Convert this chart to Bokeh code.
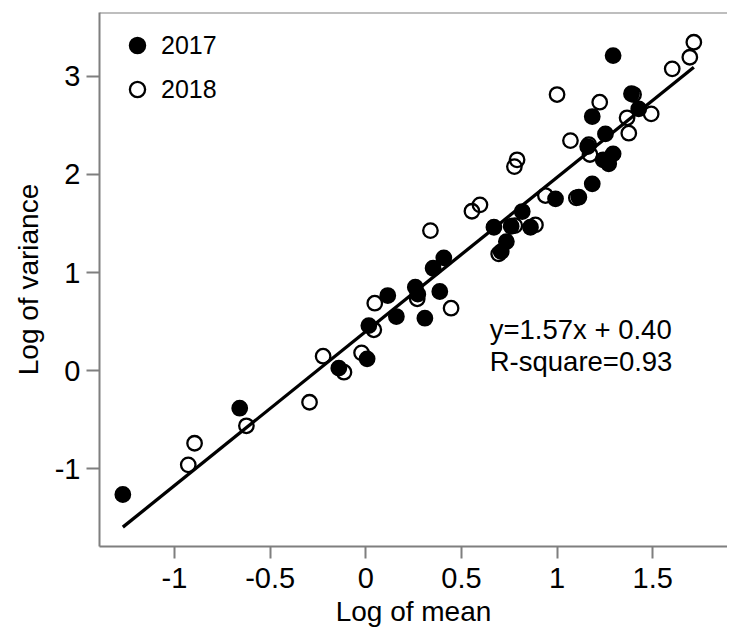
from bokeh.plotting import figure
from bokeh.models import Span, Label, Legend, LegendItem, FixedTicker, Range1d
from bokeh.embed import file_html
from bokeh.resources import INLINE

# ---- data ----
x2017 = [-1.270, -0.659, -0.141, 0.007, 0.016, 0.115, 0.160, 0.259, 0.272, 0.309,
         0.387, 0.352, 0.408, 0.670, 0.708, 0.735, 0.760, 0.818, 0.861, 0.992,
         1.114, 1.184, 1.160, 1.241, 1.270, 1.293, 1.253, 1.184, 1.293, 1.389, 1.427]
y2017 = [-1.261, -0.382, 0.026, 0.121, 0.460, 0.766, 0.552, 0.851, 0.780, 0.535,
         0.807, 1.044, 1.150, 1.462, 1.214, 1.316, 1.472, 1.622, 1.462, 1.751,
         1.768, 1.904, 2.284, 2.149, 2.108, 2.210, 2.413, 2.590, 3.211, 2.822, 2.668]

x2018 = [-0.895, -0.928, -0.624, -0.294, -0.223, -0.114, -0.022, 0.042, 0.047, 0.269,
         0.338, 0.446, 0.555, 0.597, 0.695, 0.779, 0.887, 0.777, 0.791, 0.939,
         1.000, 1.101, 1.070, 1.166, 1.172, 1.223, 1.366, 1.375, 1.400, 1.492,
         1.602, 1.694, 1.715]
y2018 = [-0.739, -0.959, -0.561, -0.321, 0.148, -0.015, 0.182, 0.417, 0.688, 0.733,
         1.428, 0.637, 1.625, 1.690, 1.191, 1.479, 1.486, 2.080, 2.149, 1.785,
         2.814, 1.761, 2.345, 2.304, 2.203, 2.736, 2.577, 2.420, 2.814, 2.617,
         3.076, 3.194, 3.347]

series_names = ["2017", "2018"]
slope = 1.57
intercept = 0.40
r_square = 0.93

x_ticks = [-1, -0.5, 0, 0.5, 1, 1.5]
x_tick_labels = ["-1", "-0.5", "0", "0.5", "1", "1.5"]
y_ticks = [-1, 0, 1, 2, 3]
y_tick_labels = ["-1", "0", "1", "2", "3"]
x_title = "Log of mean"
y_title = "Log of variance"

FONT = "Liberation Sans"
AXIS_GREY = "#7f7f7f"

p = figure(width=727, height=630,
           x_range=Range1d(-1.392, 1.891), y_range=Range1d(-1.791, 3.65),
           output_backend="svg", toolbar_location=None,
           min_border_left=99, min_border_top=12, min_border_right=0, min_border_bottom=84)
p.outline_line_color = None
p.grid.visible = False
p.background_fill_color = "white"

# regression line over the data extent
all_x = x2017 + x2018
lx = [min(all_x), max(all_x)]
ly = [slope * v + intercept for v in lx]
p.line(lx, ly, line_color="black", line_width=3.3)

r18 = p.scatter(x2018, y2018, marker="circle", size=14.5, fill_color=None,
                line_color="black", line_width=2.3)
r17 = p.scatter(x2017, y2017, marker="circle", size=14.5, fill_color="black",
                line_color="black", line_width=2.3)

# top border of the frame
p.add_layout(Span(location=p.y_range.end, dimension="width",
                  line_color=AXIS_GREY, line_width=2))

for ax, ticks, labels, title in ((p.xaxis[0], x_ticks, x_tick_labels, x_title),
                                 (p.yaxis[0], y_ticks, y_tick_labels, y_title)):
    ax.ticker = FixedTicker(ticks=ticks)
    ax.major_label_overrides = {t: l for t, l in zip(ticks, labels)}
    ax.axis_label = title
    ax.axis_line_color = AXIS_GREY
    ax.axis_line_width = 2
    ax.major_tick_line_color = AXIS_GREY
    ax.major_tick_line_width = 2
    ax.major_tick_in = 0
    ax.minor_tick_line_color = None
    ax.major_label_text_font = FONT
    ax.major_label_text_font_size = "29px"
    ax.major_label_text_color = "black"
    ax.axis_label_text_font = FONT
    ax.axis_label_text_font_size = "28px"
    ax.axis_label_text_font_style = "normal"
    ax.axis_label_text_color = "black"

p.xaxis.major_tick_out = 12
p.xaxis.major_label_standoff = 9
p.xaxis.axis_label_standoff = 5
p.yaxis.major_tick_out = 13
p.yaxis.major_label_standoff = 6
p.yaxis.axis_label_standoff = 8

legend = Legend(items=[LegendItem(label=series_names[0], renderers=[r17]),
                       LegendItem(label=series_names[1], renderers=[r18])],
                location="top_left", border_line_color=None, background_fill_alpha=0,
                margin=14, padding=0, spacing=6, glyph_width=48, glyph_height=38,
                label_standoff=0, label_text_font=FONT, label_text_font_size="25px",
                label_text_color="black")
p.add_layout(legend)

eq_text = f"y={slope:.2f}x + {intercept:.2f}"
r_text = f"R-square={r_square:.2f}"
p.add_layout(Label(x=0.648, y=0.415, text=eq_text, text_font=FONT,
                   text_font_size="27.5px", text_baseline="middle", text_color="black"))
p.add_layout(Label(x=0.648, y=0.094, text=r_text, text_font=FONT,
                   text_font_size="27.5px", text_baseline="middle", text_color="black"))

open("out.html", "w").write(file_html(p, INLINE))
